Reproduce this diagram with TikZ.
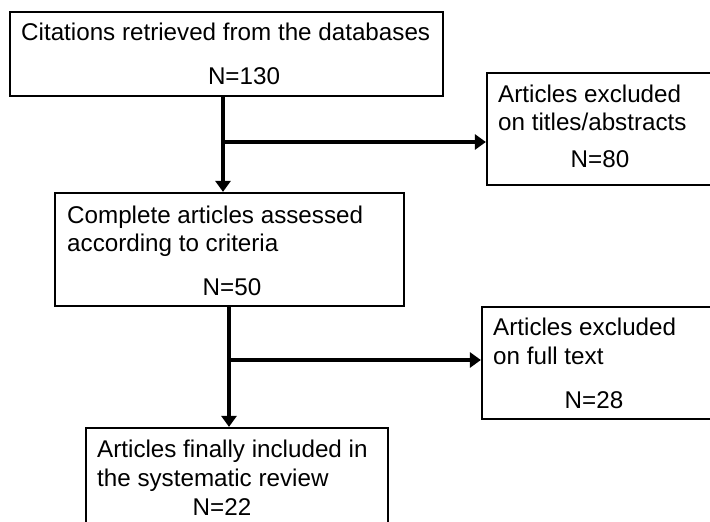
\documentclass[tikz,border=0pt]{standalone}
\usepackage{fontspec}
\setmainfont{Liberation Sans}
\usetikzlibrary{arrows.meta}

\tikzset{
  box/.style={draw, line width=2.2pt, inner sep=0pt},
  txt/.style={anchor=base west, inner sep=0pt, font=\fontsize{24.2}{29}\selectfont},
  num/.style={anchor=base, inner sep=0pt, font=\fontsize{24.2}{29}\selectfont},
  flow/.style={line width=4.5pt, -{Triangle[length=11pt,width=15pt]}}
}

\begin{document}
\begin{tikzpicture}[x=1pt,y=1pt,yscale=-1,xscale=1]
\useasboundingbox (0,0) rectangle (710,522);
\clip (0,0) rectangle (710,522);

%Shape: Rectangle [retrieved]
\node [box, minimum width=433, minimum height=84] (cit) at (226.5,54) {};
%Shape: Rectangle [excluded, titles]
\node [box, minimum width=229, minimum height=112] (excl1) at (601.5,129) {};
%Shape: Rectangle [assessed]
\node [box, minimum width=349, minimum height=113] (comp) at (229.5,249.5) {};
%Shape: Rectangle [excluded, full text]
\node [box, minimum width=235, minimum height=112] (excl2) at (599.5,363) {};
%Shape: Rectangle [included]
\node [box, minimum width=302, minimum height=104] (incl) at (237,480) {};

%Branch points
\coordinate (j1) at (223,142);
\coordinate (j2) at (229,360);

%Straight Lines
\draw [flow] (j1 |- cit.south) -- (j1 |- comp.north);
\draw [flow] (j1) -- (excl1.west |- j1);
\draw [flow] (j2 |- comp.south) -- (j2 |- incl.north);
\draw [flow] (j2) -- (excl2.west |- j2);

% Text Node
\node [txt] (citA) at (21,40) {Citations retrieved from the databases};
% Text Node
\node [num] (citN) at (244,84) {N=130};
% Text Node
\node [txt] (ex1A) at (498,102) {Articles excluded};
% Text Node
\node [txt] (ex1B) at (498,130) {on titles/abstracts};
% Text Node
\node [num] (ex1N) at (600,167) {N=80};
% Text Node
\node [txt] (compA) at (67,223) {Complete articles assessed};
% Text Node
\node [txt] (compB) at (67,251) {according to criteria};
% Text Node
\node [num] (compN) at (232,295) {N=50};
% Text Node
\node [txt] (ex2A) at (493,335) {Articles excluded};
% Text Node
\node [txt] (ex2B) at (493,364) {on full text};
% Text Node
\node [num] (ex2N) at (594,408) {N=28};
% Text Node
\node [txt] (inclA) at (97,457) {Articles finally included in};
% Text Node
\node [txt] (inclB) at (97,486) {the systematic review};
% Text Node
\node [num] (inclN) at (222,515) {N=22};

\end{tikzpicture}
\end{document}
